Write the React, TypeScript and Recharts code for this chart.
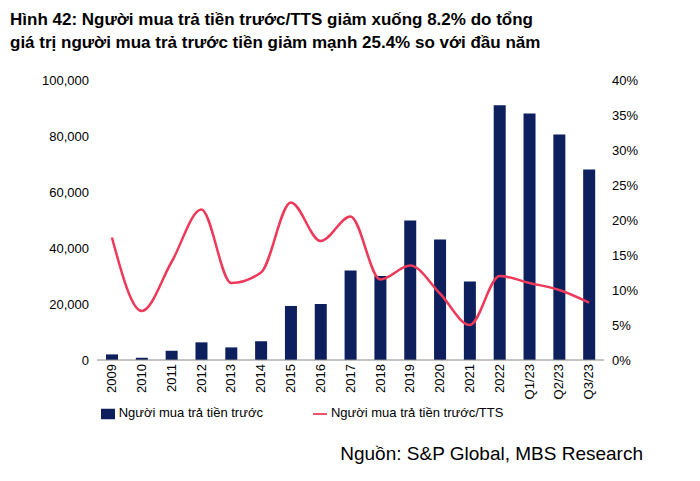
import React from "react";
import { ComposedChart, Bar, Line, XAxis, YAxis, Legend } from "recharts";

const categories = ["2009","2010","2011","2012","2013","2014","2015","2016","2017","2018","2019","2020","2021","2022","Q1/23","Q2/23","Q3/23"];
const buyers = [2000,800,3300,6300,4500,6700,19300,20000,32000,30000,49800,43000,28000,91000,88000,80500,68000];
const ratio = [17.5,7,14,21.5,11,12.5,22.5,17,20.5,11.5,13.5,9.5,5,12,11,10,8.2];
const leftTicks = [0,20000,40000,60000,80000,100000];
const rightTicks = [0,5,10,15,20,25,30,35,40];

const data = categories.map((c, i) => ({ c, b: buyers[i], r: ratio[i] }));
const font = "'Liberation Sans', Arial, sans-serif";

export default function App() {
  return (
    <div style={{ position: "absolute", left: 0, top: 0, width: 700, height: 481, background: "#fff", fontFamily: font }}>
      <div style={{ position: "absolute", left: 10, top: 8, fontSize: 17, fontWeight: "bold", lineHeight: "23px", color: "#000" }}>
        Hình 42: Người mua trả tiền trước/TTS giảm xuống 8.2% do tổng<br />giá trị người mua trả trước tiền giảm mạnh 25.4% so với đầu năm
      </div>
      <div style={{ position: "absolute", left: 0, top: 70 }}>
        <ComposedChart width={700} height={365} data={data} margin={{ top: 10, right: 46, left: 0, bottom: 0 }} style={{ fontFamily: font }}>
          <XAxis dataKey="c" interval={0} angle={-90} textAnchor="end" dy={-4} dx={-5} height={45} tick={{ fontSize: 13, fill: "#000" }} tickLine={false} axisLine={{ stroke: "#888" }} />
          <YAxis yAxisId="l" width={97} domain={[0, 100000]} ticks={leftTicks} tickFormatter={(v) => v.toLocaleString("en-US")} tick={{ fontSize: 13, fill: "#000" }} axisLine={false} tickLine={false} />
          <YAxis yAxisId="r" orientation="right" width={50} domain={[0, 40]} ticks={rightTicks} tickFormatter={(v) => v + "%"} tick={{ fontSize: 13, fill: "#000" }} axisLine={false} tickLine={false} />
          <Bar yAxisId="l" dataKey="b" name="Người mua trả tiền trước" fill="#0d1f5c" barSize={12} legendType="rect" isAnimationActive={false} />
          <Line yAxisId="r" dataKey="r" name="Người mua trả tiền trước/TTS" type="monotone" stroke="#ee3a5a" strokeWidth={2.5} dot={false} legendType="plainline" isAnimationActive={false} />
          <Legend verticalAlign="bottom" height={30} iconSize={14} wrapperStyle={{ fontSize: 13, color: "#000" }} formatter={(v) => <span style={{ color: "#000", marginRight: 40 }}>{v}</span>} />
        </ComposedChart>
      </div>
      <div style={{ position: "absolute", right: 57, top: 443, fontSize: 19, color: "#000" }}>Nguồn: S&amp;P Global, MBS Research</div>
    </div>
  );
}
